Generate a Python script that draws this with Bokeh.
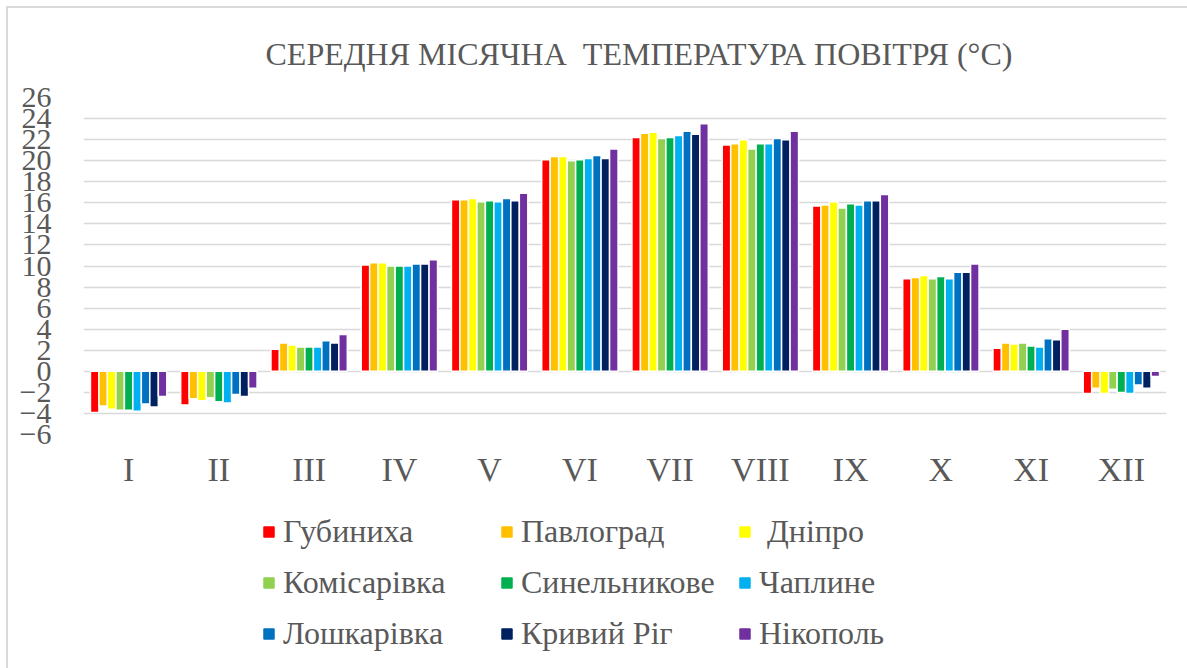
from bokeh.plotting import figure
from bokeh.layouts import column
from bokeh.models import FactorRange, FixedTicker, Legend, LegendItem, ColumnDataSource
from bokeh.transform import dodge
from bokeh.embed import file_html
from bokeh.resources import INLINE

months = ["I", "II", "III", "IV", "V", "VI", "VII", "VIII", "IX", "X", "XI", "XII"]
stations = ["Губиниха", "Павлоград", " Дніпро", "Комісарівка", "Синельникове",
            "Чаплине", "Лошкарівка", "Кривий Ріг", "Нікополь"]
colors = ["#FF0000", "#FFC000", "#FFFF00", "#92D050", "#00B050",
          "#00B0F0", "#0070C0", "#002060", "#7030A0"]

gubynykha = [-3.9, -3.2, 2.1, 10.1, 16.3, 20.1, 22.2, 21.5, 15.7, 8.8, 2.2, -2.1]
pavlohrad = [-3.3, -2.6, 2.7, 10.3, 16.3, 20.4, 22.6, 21.6, 15.8, 8.9, 2.7, -1.6]
dnipro = [-3.6, -2.8, 2.5, 10.3, 16.4, 20.4, 22.7, 22.0, 16.1, 9.1, 2.6, -2.1]
komisarivka = [-3.7, -2.5, 2.3, 10.0, 16.1, 20.0, 22.1, 21.1, 15.5, 8.8, 2.7, -1.7]
synelnykove = [-3.7, -2.9, 2.3, 10.0, 16.2, 20.1, 22.2, 21.6, 15.9, 9.0, 2.4, -2.0]
chapline = [-3.8, -3.0, 2.3, 10.0, 16.1, 20.2, 22.4, 21.6, 15.8, 8.8, 2.3, -2.1]
loshkarivka = [-3.1, -2.2, 2.9, 10.2, 16.4, 20.5, 22.8, 22.1, 16.2, 9.4, 3.1, -1.3]
kryvyi_rih = [-3.4, -2.4, 2.7, 10.2, 16.2, 20.2, 22.5, 22.0, 16.2, 9.4, 3.0, -1.6]
nikopol = [-2.4, -1.6, 3.5, 10.6, 16.9, 21.1, 23.5, 22.8, 16.8, 10.2, 4.0, -0.5]

series = [gubynykha, pavlohrad, dnipro, komisarivka, synelnykove,
          chapline, loshkarivka, kryvyi_rih, nikopol]
y_ticks = list(range(-6, 27, 2))
title_text = "СЕРЕДНЯ МІСЯЧНА\u00a0 ТЕМПЕРАТУРА ПОВІТРЯ (°С)"

FONT = "Liberation Serif"
GRAY = "#595959"

p = figure(x_range=FactorRange(*months), y_range=(-6, 26), title=title_text,
           width=1179, height=497, output_backend="svg", toolbar_location=None,
           min_border_left=75, min_border_right=21, min_border_top=89, min_border_bottom=71)
p.outline_line_color = None
p.background_fill_color = "white"
p.border_fill_color = "white"

p.title.text_font = FONT
p.title.text_font_size = "32px"
p.title.text_font_style = "normal"
p.title.text_color = GRAY
p.title.align = "left"
p.title.vertical_align = "middle"
p.title.offset = 182
p.title.standoff = 49

data = {"month": months}
for i, s in enumerate(series):
    data[f"s{i}"] = s
src = ColumnDataSource(data)

step = 0.094
for i, col in enumerate(colors):
    p.vbar(x=dodge("month", (i - 4) * step, range=p.x_range), top=f"s{i}", bottom=0,
           width=step, source=src, fill_color=col, line_color="white", line_width=1.5)

p.xgrid.grid_line_color = None
p.ygrid.grid_line_color = "#D9D9D9"
p.ygrid.grid_line_width = 1.4
p.yaxis.ticker = FixedTicker(ticks=y_ticks)
for ax in (p.xaxis, p.yaxis):
    ax.axis_line_color = None
    ax.major_tick_line_color = None
    ax.minor_tick_line_color = None
    ax.major_label_text_font = FONT
    ax.major_label_text_color = GRAY
p.yaxis.major_label_text_font_size = "30px"
p.xaxis.major_label_text_font_size = "34px"
p.yaxis.major_label_standoff = 26
p.xaxis.major_label_standoff = 10

# legend on its own canvas below the chart (items ordered so rows read left to right)
lf = figure(width=1179, height=163, output_backend="svg", toolbar_location=None,
            x_axis_type=None, y_axis_type=None, x_range=(0, 1), y_range=(0, 1),
            min_border_left=0, min_border_right=0, min_border_top=0, min_border_bottom=0)
lf.outline_line_color = None
lf.grid.visible = False
renderers = []
for i, col in enumerate(colors):
    idx = list(range(len(months)))
    lsrc = ColumnDataSource({"left": idx, "right": [k + 1 for k in idx], "top": series[i]})
    r = lf.quad(left="left", right="right", bottom=0, top="top", source=lsrc,
                fill_color=col, line_color=col)
    r.visible = False
    renderers.append(r)
order = [0, 3, 6, 1, 4, 7, 2, 5, 8]
items = [LegendItem(label=stations[k], renderers=[renderers[k]]) for k in order]
legend = Legend(items=items, ncols=3, location=(179, 16),
                label_text_font=FONT, label_text_font_size="32px", label_text_color=GRAY,
                glyph_width=13, glyph_height=13, label_standoff=8, spacing=14,
                label_width=203, padding=0, margin=0, border_line_color=None,
                background_fill_alpha=0, inactive_fill_alpha=0)
lf.add_layout(legend, "center")

layout = column(p, lf, spacing=0,
                styles={"border-top": "2px solid #d9d9d9", "border-left": "2px solid #d9d9d9",
                        "margin-left": "6px", "margin-top": "6px"})

open("out.html", "w").write(file_html(layout, INLINE))
